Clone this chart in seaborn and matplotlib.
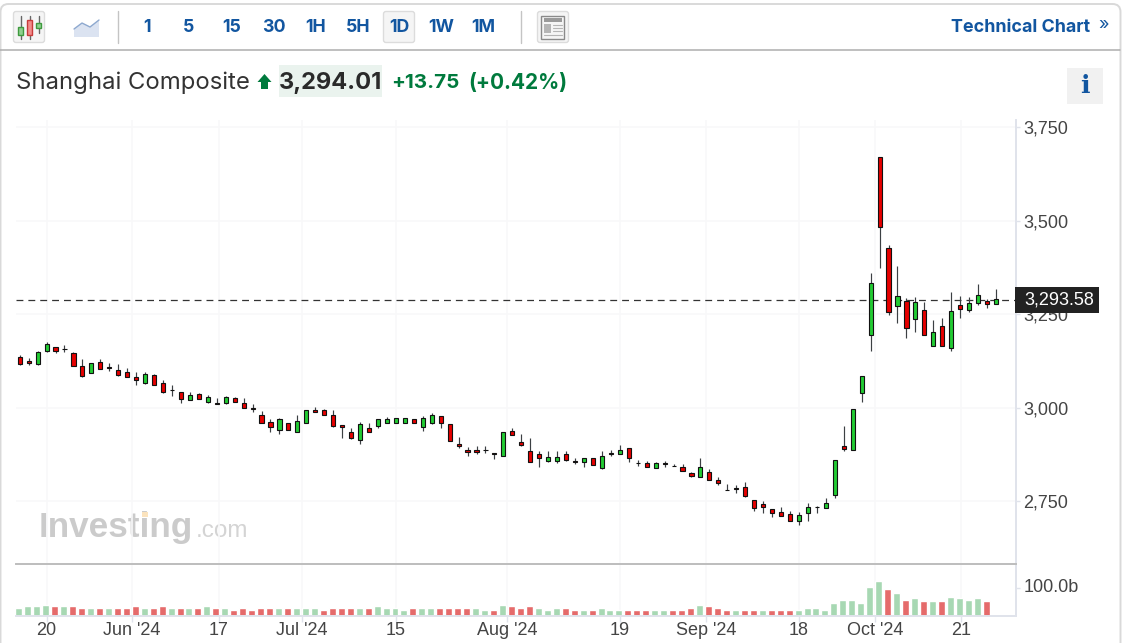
import matplotlib
matplotlib.use("Agg")
import matplotlib.pyplot as plt
import matplotlib.transforms as mtrans
import seaborn as sns
import numpy as np
import pandas as pd
from matplotlib.patches import FancyBboxPatch, Rectangle, Polygon

opens = [3137,3126,3117,3152,3162,3158,3147,3111,3093,3122,3110,3102,3095,3082,3068,3087,3066,3049,3042,3021,3037,3016,3013,3013,3026,3013,2999,2981,2962,2940,2961,2936,2960,2995,2994,2981,
         2954,2937,2915,2946,2952,2961,2960,2960,2970,2948,2960,2978,2958,2905,2889,2889,2888,2881,2872,2938,2909,2885,2877,2859,2859,2877,2858,2856,2865,2840,2880,2876,2894,2854,2854,2840,2852,
         2846,2841,2826,2816,2829,2807,2782,2786,2789,2753,2742,2729,2721,2717,2699,2719,2736,2732,2767,2898,2888,3040,3194,3672,3427,3274,3287,3237,3262,3165,3218,3161,3275,3261,3282,3286,3277]
highs = [3143,3134,3152,3176,3162,3168,3151,3130,3121,3130,3119,3118,3106,3095,3095,3091,3074,3062,3042,3042,3039,3034,3026,3031,3030,3026,3011,2991,2970,2972,2961,2982,2994,3002,2998,2995,
         2954,2946,2962,2959,2970,2975,2973,2973,2970,2979,2986,2978,2958,2922,2897,2898,2898,2881,2937,2946,2930,2919,2886,2886,2886,2886,2865,2865,2865,2886,2887,2902,2894,2862,2857,2856,2858,
         2849,2849,2830,2866,2838,2815,2798,2794,2802,2753,2750,2729,2734,2725,2721,2745,2737,2759,2862,2951,2997,3086,3360,3672,3435,3380,3294,3296,3283,3235,3240,3311,3300,3296,3331,3291,3319]
lows = [3116,3115,3116,3151,3148,3151,3112,3084,3093,3103,3100,3085,3084,3061,3064,3061,3039,3032,3013,3021,3024,3013,3012,3012,3015,3000,2988,2960,2936,2931,2940,2936,2960,2988,2980,2950,
        2919,2916,2903,2935,2947,2960,2960,2960,2960,2939,2956,2947,2913,2894,2871,2876,2879,2863,2872,2927,2899,2855,2843,2856,2852,2859,2850,2843,2848,2838,2871,2876,2856,2846,2842,2839,2842,
        2844,2831,2815,2816,2807,2795,2780,2774,2763,2725,2718,2709,2710,2698,2686,2699,2718,2732,2759,2886,2888,3016,3152,3374,3248,3228,3188,3204,3196,3165,3165,3152,3240,3258,3276,3268,3277]
closes = [3117,3120,3150,3170,3152,3157,3112,3085,3121,3104,3108,3089,3084,3076,3091,3061,3044,3047,3025,3034,3025,3030,3012,3029,3016,3001,2998,2960,2948,2970,2940,2965,2994,2988,2980,2952,
          2948,2919,2958,2936,2970,2970,2973,2973,2960,2973,2982,2961,2913,2899,2883,2883,2887,2876,2937,2928,2900,2856,2865,2870,2870,2860,2856,2865,2848,2872,2878,2889,2865,2852,2843,2854,2850,
          2844,2832,2819,2841,2808,2799,2780,2784,2764,2732,2735,2720,2711,2699,2713,2734,2734,2745,2862,2890,2997,3086,3335,3485,3257,3299,3213,3283,3196,3202,3165,3259,3265,3282,3302,3278,3291]

volumes = [27,33,33,39,34,33,33,27,27,27,27,27,27,33,27,27,33,27,27,27,27,33,27,27,21,27,21,27,27,27,27,27,27,27,21,27,27,27,27,27,33,27,27,21,27,27,27,27,27,27,27,27,21,21,39,34,27,33,27,21,27,
           27,21,21,21,27,21,21,21,21,21,21,21,21,21,27,39,34,27,21,21,21,21,21,21,21,21,21,27,27,21,44,56,56,44,103,127,98,80,56,63,51,51,51,68,63,56,63,51]
volume_dirs = list("ggggrgrrgrgrrrgrrgrgrgrgrrrrrgrgggrrrrgrggggrggrrrrggrgrrrggg"
                   "rrgrgggrrrggrrrgrrrgrrgrrrggggggggggrgrgrgrggggr")

tick_labels = ["20", "Jun '24", "17", "Jul '24", "15", "Aug '24", "19", "Sep '24", "18", "Oct '24", "21"]
tick_positions = [3.0, 12.55, 22.2, 31.5, 42.0, 54.4, 67.0, 76.6, 87.0, 95.5, 105.1]
price_ticks = [2750, 3000, 3250, 3500, 3750]
price_labels = ["2,750", "3,000", "3,250", "3,500", "3,750"]
last_price_level = 3288.5
last_price_text = "3,293.58"
toolbar_labels = ["1", "5", "15", "30", "1H", "5H", "1D", "1W", "1M"]

W, H = 1122, 643
sns.set_theme(style="white")
plt.rcParams["font.family"] = ["Inter", "Liberation Sans", "DejaVu Sans"]
fig = plt.figure(figsize=(W / 100, H / 100), dpi=100, facecolor="white")

def rect(l, t, r, b):
    return [l / W, 1 - b / H, (r - l) / W, (b - t) / H]

bg = fig.add_axes([0, 0, 1, 1], zorder=0)
bg.set_xlim(0, W); bg.set_ylim(H, 0); bg.axis("off")

PLOT_L, PLOT_R = 16, 1015.5
GRID = "#f8f8f9"; AXC = "#e0e3eb"; TICKC = "#444444"; BLUE = "#1256a0"; GREEN = "#007a3d"

# main candlestick pane
ax = fig.add_axes(rect(PLOT_L, 120, PLOT_R, 564), zorder=2, facecolor="none")
step = 8.957
x0, x1 = (PLOT_L - 19.7) / step, (PLOT_R - 19.7) / step
idx = np.arange(len(opens))
df = pd.DataFrame(dict(i=idx, o=opens, h=highs, l=lows, c=closes))
df["top"] = df[["o", "c"]].max(axis=1)
df["bot"] = df[["o", "c"]].min(axis=1)
df["col"] = np.where(df.c > df.o, "#22cc33", "#e60000")
ax.set_xlim(x0, x1)
ax.set_ylim(3000 - (564 - 408) / 0.374, 3000 + (408 - 120) / 0.374)
for v in price_ticks:
    ax.axhline(v, color=GRID, lw=1.2, zorder=0)
for t in tick_positions:
    ax.axvline(t, color=GRID, lw=1.2, zorder=0)
ax.vlines(df.i, df.l, df.h, color="#3c4043", lw=0.85, zorder=3)
ax.bar(df.i, df.top - df.bot, bottom=df.bot, width=0.46, color=df.col, edgecolor="#111111", linewidth=0.8, zorder=4)
ax.axhline(last_price_level, color="#333333", lw=0.9, dashes=(5.5, 4), zorder=2)
ax.set_xticks([]); ax.yaxis.tick_right()
ax.set_yticks(price_ticks, price_labels, fontsize=13, color=TICKC, family="Liberation Sans")
ax.tick_params(axis="y", length=3, width=1, color=AXC, pad=2.8, right=True)
for s in ["top", "left", "bottom"]:
    ax.spines[s].set_visible(False)
ax.spines["right"].set_color(AXC); ax.spines["right"].set_linewidth(1.4)

# volume pane
vax = fig.add_axes(rect(PLOT_L, 564, PLOT_R, 615.5), zorder=2, facecolor="none")
vdf = pd.DataFrame(dict(i=np.arange(len(volumes)) - 0.1, v=volumes, d=volume_dirs))
sns.barplot(data=vdf, x="i", y="v", hue="d", hue_order=["g", "r"], palette={"g": "#a7d8b3", "r": "#e56b6b"},
            native_scale=True, dodge=False, width=0.78, legend=False, ax=vax, saturation=1, errorbar=None)
vax.set_xlim(x0, x1); vax.set_ylim(0, 187)
for t in tick_positions:
    vax.axvline(t, color=GRID, lw=1.2, zorder=0)
vax.set_xlabel(""); vax.set_ylabel("")
vax.yaxis.tick_right()
vax.set_yticks([100], ["100.0b"], fontsize=13, color=TICKC, family="Liberation Sans")
vax.tick_params(axis="y", length=3, width=1, color=AXC, pad=2.8, right=True)
for lab in vax.get_yticklabels():
    lab.set_transform(lab.get_transform() + mtrans.ScaledTranslation(0, 2 / 72, fig.dpi_scale_trans))
vax.set_xticks(tick_positions, tick_labels, fontsize=13, color=TICKC, family="Liberation Sans")
vax.tick_params(axis="x", length=4, width=1, color=AXC, pad=1, bottom=True)
vax.spines["left"].set_visible(False)
vax.spines["top"].set_color("#bdbdbd"); vax.spines["top"].set_linewidth(1.4)
for s in ["right", "bottom"]:
    vax.spines[s].set_color(AXC); vax.spines[s].set_linewidth(1.4)

# frame
bg.add_patch(FancyBboxPatch((0.5, 4), W - 2, H + 40, boxstyle="round,pad=0,rounding_size=8", fc="white", ec="#d9d9d9", lw=1.4))
bg.plot([0, W - 1.5], [49.5, 49.5], color="#adadad", lw=1.1)
bg.plot([118, 118], [11, 43], color="#c4c4c4", lw=1)
bg.plot([521, 521], [11, 43], color="#c4c4c4", lw=1)

def button(x, y, w, h):
    bg.add_patch(FancyBboxPatch((x, y), w, h, boxstyle="round,pad=0,rounding_size=2.5", fc="#f5f5f5", ec="#dcdcdc", lw=1))

button(13.5, 11.5, 31, 31)
button(383.5, 11.5, 31, 31)
button(537.5, 11.5, 31, 31)
for cx, wt, wb, bt, bb, fc, ec in [(21, 16, 39, 27, 35, "#8fd08f", "#3f9a3f"), (30, 16, 39, 20, 35, "#f28c8c", "#c83a3a"), (39, 16, 33, 23, 28, "#8fd08f", "#3f9a3f")]:
    bg.plot([cx, cx], [wt, wb], color="#666666", lw=1)
    bg.add_patch(Rectangle((cx - 2.5, bt), 5, bb - bt, fc=fc, ec=ec, lw=1, zorder=3))
bg.add_patch(Polygon([(74, 29), (82, 23), (90, 27), (99, 20), (99, 37), (74, 37)], fc="#dbe3f1", ec="none"))
bg.plot([74, 82, 90, 99], [29, 23, 27, 20], color="#8ea9cf", lw=1)
bg.add_patch(Rectangle((541.5, 15.5), 23, 23, fc="#f5f5f5", ec="#8a8a8a", lw=1))
bg.add_patch(Rectangle((544, 18), 18, 4, fc="#9a9a9a", ec="none"))
bg.add_patch(Rectangle((544, 24), 7, 9, fc="#b5b5b5", ec="none"))
for yy in (25, 28, 31, 35):
    bg.plot([553 if yy < 33 else 544, 562], [yy, yy], color="#b5b5b5", lw=0.8)

for lab, cx in zip(toolbar_labels, [147, 189, 232, 273.5, 316, 358, 399.5, 441.5, 483.5]):
    bg.text(cx, 27.5, lab, ha="center", va="center", fontsize=12.8, color=BLUE, weight="bold")
bg.text(1090, 27.5, "Technical Chart", ha="right", va="center", fontsize=12.9, color=BLUE, weight="bold")
bg.text(1103.5, 25, "»", ha="center", va="center", fontsize=13, color=BLUE)

# headline
bg.text(16, 82.5, "Shanghai Composite", ha="left", va="center", fontsize=17.2, color="#333333")
bg.add_patch(Polygon([(264.5, 74), (271.5, 82), (268, 82), (268, 89), (261, 89), (261, 82), (257.5, 82)], fc=GREEN, ec="none"))
bg.add_patch(Rectangle((279, 65), 103, 32, fc="#eaf3ee", ec="none"))
bg.text(330.5, 83, "3,294.01", ha="center", va="center", fontsize=17, color="#2a2a2a", weight="bold")
bg.text(391, 82.5, "+13.75", ha="left", va="center", fontsize=14.8, color=GREEN, weight="bold")
bg.text(468, 82.5, "(+0.42%)", ha="left", va="center", fontsize=15, color=GREEN, weight="bold")
bg.add_patch(Rectangle((1067, 68), 36, 36, fc="#f1f1f1", ec="none"))
bg.text(1085, 86, "i", ha="center", va="center", fontsize=18, color=BLUE, weight="bold", family="DejaVu Serif")

# watermark
bg.text(39, 527, "Investing", ha="left", va="center", fontsize=25.3, color="#cbcbcb", weight="bold", family="Liberation Sans")
bg.text(196, 531, ".com", ha="left", va="center", fontsize=17.5, color="#d4d4d4", family="Liberation Sans")
bg.add_patch(Rectangle((141.7, 511.5), 6, 5, fc="#fbe3bd", ec="none", zorder=3))

# last-price tag
top = fig.add_axes([0, 0, 1, 1], zorder=5, facecolor="none")
top.set_xlim(0, W); top.set_ylim(H, 0); top.axis("off")
top.add_patch(Rectangle((1015, 287), 84, 26, fc="#222222", ec="none"))
top.text(1059, 300, last_price_text, ha="center", va="center", fontsize=13, color="white", family="Liberation Sans")

fig.savefig("out.png", dpi=100, facecolor="white")
